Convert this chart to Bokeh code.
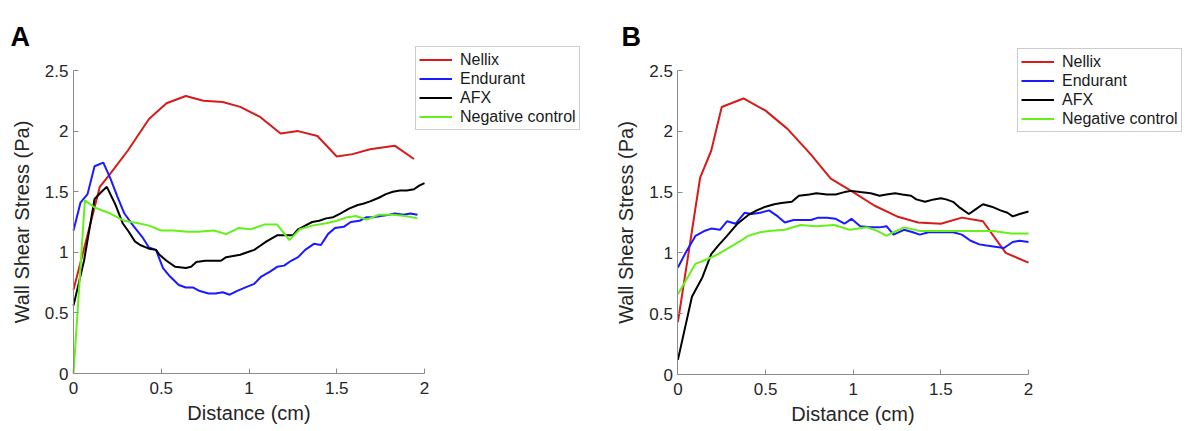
from bokeh.plotting import figure
from bokeh.layouts import row
from bokeh.models import Range1d, FixedTicker, Legend, LegendItem, LinearAxis, Label
from bokeh.embed import file_html
from bokeh.resources import INLINE

# ---------------- data ----------------
series_names = ["Nellix", "Endurant", "AFX", "Negative control"]
x_ticks = [0, 0.5, 1, 1.5, 2]
x_tick_labels = ["0", "0.5", "1", "1.5", "2"]
y_ticks = [0, 0.5, 1, 1.5, 2, 2.5]
y_tick_labels = ["0", "0.5", "1", "1.5", "2", "2.5"]

# Panel A
a_nellix_x = [0, 0.15, 0.21, 0.31, 0.43, 0.53, 0.64, 0.74, 0.85, 0.95, 1.06, 1.18, 1.28, 1.39, 1.50, 1.59, 1.69, 1.83, 1.94]
a_nellix_y = [0.69, 1.54, 1.65, 1.84, 2.10, 2.23, 2.29, 2.25, 2.24, 2.20, 2.12, 1.98, 2.00, 1.96, 1.79, 1.81, 1.85, 1.88, 1.77]

a_endurant_x = [0, 0.04, 0.08, 0.12, 0.17, 0.21, 0.25, 0.29, 0.34, 0.39, 0.43, 0.47, 0.51, 0.55, 0.60, 0.64, 0.68,
                0.72, 0.77, 0.81, 0.85, 0.89, 0.93, 0.98, 1.03, 1.07, 1.12, 1.16, 1.20, 1.24, 1.28, 1.32, 1.37, 1.41,
                1.45, 1.49, 1.54, 1.58, 1.63, 1.67, 1.71, 1.75, 1.80, 1.83, 1.88, 1.92, 1.96]
a_endurant_y = [1.18, 1.41, 1.48, 1.71, 1.74, 1.61, 1.46, 1.32, 1.22, 1.13, 1.04, 1.02, 0.87, 0.80, 0.73, 0.71, 0.71,
                0.68, 0.66, 0.66, 0.67, 0.65, 0.68, 0.71, 0.74, 0.80, 0.84, 0.88, 0.89, 0.93, 0.96, 1.02, 1.07, 1.06,
                1.15, 1.20, 1.21, 1.25, 1.26, 1.29, 1.29, 1.30, 1.31, 1.32, 1.31, 1.32, 1.31]

a_afx_x = [0, 0.06, 0.12, 0.16, 0.19, 0.24, 0.28, 0.31, 0.35, 0.38, 0.43, 0.47, 0.49, 0.53, 0.58, 0.64, 0.67, 0.70,
           0.75, 0.79, 0.84, 0.87, 0.91, 0.95, 0.99, 1.03, 1.06, 1.10, 1.16, 1.22, 1.25, 1.28, 1.32, 1.36, 1.40, 1.44,
           1.48, 1.52, 1.57, 1.62, 1.65, 1.69, 1.74, 1.78, 1.82, 1.86, 1.90, 1.94, 1.97, 2.0]
a_afx_y = [0.56, 0.93, 1.44, 1.50, 1.54, 1.39, 1.24, 1.18, 1.09, 1.06, 1.03, 1.02, 0.98, 0.93, 0.88, 0.87, 0.88, 0.92,
           0.93, 0.93, 0.93, 0.96, 0.97, 0.98, 1.00, 1.02, 1.05, 1.09, 1.14, 1.14, 1.14, 1.19, 1.22, 1.25, 1.26, 1.28,
           1.29, 1.32, 1.36, 1.39, 1.40, 1.42, 1.45, 1.48, 1.50, 1.51, 1.51, 1.52, 1.55, 1.57]

a_control_x = [0, 0.065, 0.12, 0.21, 0.29, 0.37, 0.43, 0.50, 0.57, 0.65, 0.71, 0.80, 0.87, 0.94, 1.01, 1.09, 1.16,
               1.23, 1.29, 1.36, 1.44, 1.50, 1.56, 1.61, 1.67, 1.74, 1.82, 1.89, 1.96]
a_control_y = [0.0, 1.43, 1.37, 1.32, 1.26, 1.24, 1.22, 1.18, 1.18, 1.17, 1.17, 1.18, 1.15, 1.20, 1.19, 1.23, 1.23,
               1.10, 1.19, 1.22, 1.24, 1.26, 1.29, 1.30, 1.27, 1.31, 1.31, 1.30, 1.28]

# Panel B
b_nellix_x = [0, 0.127, 0.19, 0.25, 0.374, 0.50, 0.625, 0.758, 0.872, 1.0, 1.12, 1.25, 1.37, 1.50, 1.62, 1.74, 1.87, 2.0]
b_nellix_y = [0.43, 1.62, 1.84, 2.20, 2.27, 2.17, 2.02, 1.81, 1.61, 1.50, 1.39, 1.30, 1.25, 1.24, 1.29, 1.26, 1.00, 0.92]

b_endurant_x = [0, 0.04, 0.10, 0.15, 0.19, 0.24, 0.28, 0.33, 0.38, 0.42, 0.47, 0.52, 0.57, 0.61, 0.66, 0.71, 0.76,
                0.80, 0.85, 0.90, 0.95, 0.99, 1.04, 1.10, 1.15, 1.19, 1.23, 1.29, 1.34, 1.38, 1.43, 1.48, 1.53, 1.57,
                1.62, 1.67, 1.72, 1.76, 1.81, 1.86, 1.91, 1.95, 2.0]
b_endurant_y = [0.88, 0.99, 1.14, 1.18, 1.20, 1.19, 1.26, 1.24, 1.33, 1.32, 1.33, 1.35, 1.30, 1.25, 1.27, 1.27, 1.27,
                1.29, 1.29, 1.28, 1.24, 1.28, 1.22, 1.21, 1.21, 1.22, 1.15, 1.19, 1.17, 1.15, 1.17, 1.17, 1.17, 1.17,
                1.15, 1.10, 1.07, 1.06, 1.05, 1.04, 1.09, 1.10, 1.09]

b_afx_x = [0, 0.08, 0.14, 0.19, 0.23, 0.28, 0.34, 0.40, 0.45, 0.50, 0.55, 0.59, 0.65, 0.69, 0.75, 0.79, 0.85, 0.90,
           0.95, 0.99, 1.04, 1.10, 1.15, 1.19, 1.24, 1.28, 1.33, 1.36, 1.41, 1.46, 1.50, 1.53, 1.57, 1.61, 1.66, 1.70,
           1.74, 1.79, 1.84, 1.88, 1.91, 1.95, 2.0]
b_afx_y = [0.12, 0.64, 0.80, 0.99, 1.06, 1.14, 1.24, 1.31, 1.35, 1.38, 1.40, 1.41, 1.42, 1.47, 1.48, 1.49, 1.48, 1.48,
           1.50, 1.51, 1.50, 1.49, 1.47, 1.48, 1.49, 1.48, 1.47, 1.44, 1.42, 1.44, 1.45, 1.44, 1.42, 1.37, 1.32, 1.36,
           1.40, 1.38, 1.35, 1.33, 1.30, 1.32, 1.34]

b_control_x = [0, 0.06, 0.10, 0.17, 0.23, 0.30, 0.36, 0.40, 0.47, 0.52, 0.61, 0.70, 0.79, 0.89, 0.98, 1.08, 1.14,
               1.19, 1.23, 1.29, 1.38, 1.50, 1.61, 1.72, 1.80, 1.90, 2.0]
b_control_y = [0.66, 0.81, 0.91, 0.95, 0.99, 1.05, 1.10, 1.14, 1.17, 1.18, 1.19, 1.23, 1.22, 1.23, 1.19, 1.21, 1.18,
               1.14, 1.17, 1.21, 1.18, 1.18, 1.18, 1.18, 1.18, 1.16, 1.16]

colors = ["#d71a1a", "#1a1aff", "#000000", "#66f01a"]
FONT = "Liberation Sans"
HEIGHT = 431


def make_panel(letter, data, width, x0_px, x2_px, y0_px, y25_px, legend_loc, letter_px):
    # the plotting frame fills the whole figure; axes are pinned at x=0 / y=0
    kx = (x2_px - x0_px) / 2.0
    ky = (y0_px - y25_px) / 2.5
    xr = Range1d(-x0_px / kx, (width - x0_px) / kx)
    yr = Range1d(-(HEIGHT - y0_px) / ky, 2.5 + y25_px / ky)
    p = figure(width=width, height=HEIGHT, x_range=xr, y_range=yr,
               output_backend="svg", toolbar_location=None,
               x_axis_location=None, y_axis_location=None,
               min_border=0, min_border_left=0, min_border_right=0,
               min_border_top=0, min_border_bottom=0)
    p.xgrid.visible = False
    p.ygrid.visible = False
    p.outline_line_color = None
    p.background_fill_color = "white"
    p.border_fill_color = "white"

    items = []
    for name, (xs, ys), col in zip(series_names, data, colors):
        r = p.line(xs, ys, line_color=col, line_width=2)
        items.append(LegendItem(label=name, renderers=[r]))

    legend = Legend(items=items, location=legend_loc, orientation="vertical",
                    border_line_color="#9a9a9a", border_line_width=1,
                    background_fill_color="white", background_fill_alpha=1,
                    padding=3, spacing=0, margin=0,
                    label_text_font=FONT, label_text_font_size="16px", label_text_color="#1a1a1a",
                    label_height=19, glyph_height=19, glyph_width=33, label_standoff=8)
    p.add_layout(legend)

    xaxis = LinearAxis(fixed_location=0, bounds=(0, 2), axis_label="Distance (cm)")
    yaxis = LinearAxis(fixed_location=0, bounds=(0, 2.5), axis_label="Wall Shear Stress (Pa)")
    for ax, ticks, labels in ((xaxis, x_ticks, x_tick_labels), (yaxis, y_ticks, y_tick_labels)):
        ax.ticker = FixedTicker(ticks=ticks)
        ax.major_label_overrides = {t: l for t, l in zip(ticks, labels)}
        ax.axis_line_color = "#8c8c8c"
        ax.major_tick_line_color = "#8c8c8c"
        ax.major_tick_in = 5
        ax.major_tick_out = 0
        ax.minor_tick_line_color = None
        ax.major_label_text_font = FONT
        ax.major_label_text_font_size = "17px"
        ax.major_label_text_color = "#262626"
        ax.axis_label_text_font = FONT
        ax.axis_label_text_font_size = "20px"
        ax.axis_label_text_font_style = "normal"
        ax.axis_label_text_color = "#262626"
    xaxis.major_label_standoff = 8
    xaxis.axis_label_standoff = 5
    yaxis.major_label_standoff = 5
    yaxis.axis_label_standoff = 9
    p.add_layout(xaxis, "below")
    p.add_layout(yaxis, "left")

    lx = (letter_px[0] - x0_px) / kx
    ly = (y0_px - letter_px[1]) / ky
    p.add_layout(Label(x=lx, y=ly, text=letter, text_font=FONT, text_font_size="27px",
                       text_font_style="bold", text_color="black", text_baseline="alphabetic"))
    return p


pa = make_panel("A", [(a_nellix_x, a_nellix_y), (a_endurant_x, a_endurant_y), (a_afx_x, a_afx_y),
                      (a_control_x, a_control_y)],
                600, 73, 424, 373, 70, (415, 301), (10, 36))
pb = make_panel("B", [(b_nellix_x, b_nellix_y), (b_endurant_x, b_endurant_y), (b_afx_x, b_afx_y),
                      (b_control_x, b_control_y)],
                589, 77.4, 428, 374, 70, (417, 299), (21, 36))

layout = row(pa, pb)
open("out.html", "w").write(file_html(layout, INLINE))
